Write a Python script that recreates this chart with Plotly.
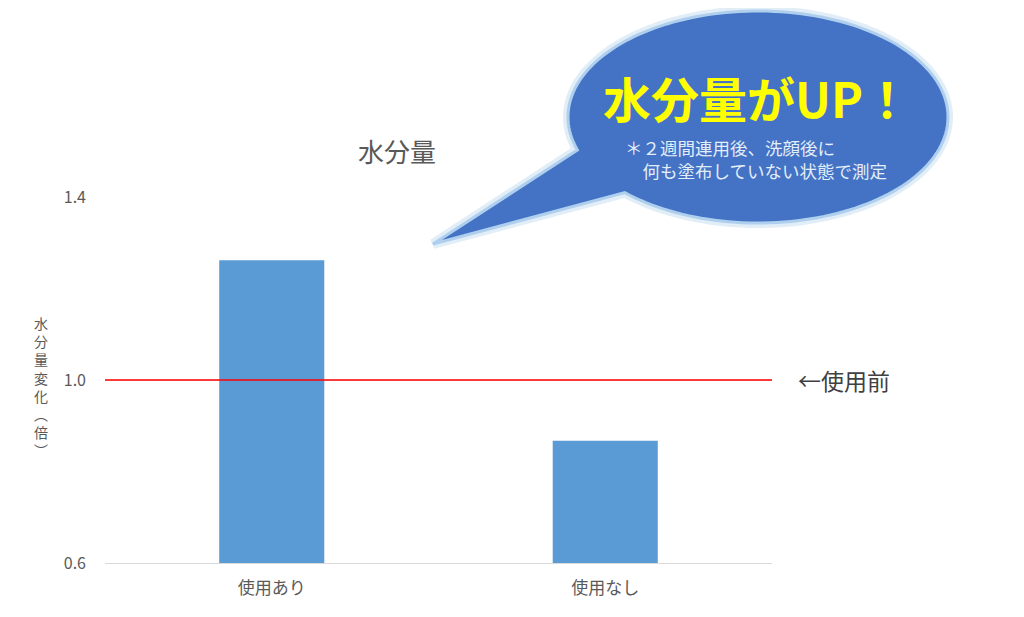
import numpy as np
import plotly.graph_objects as go

categories = ["使用あり", "使用なし"]
values = [1.262, 0.867]
y_ticks = [0.6, 1.0, 1.4]
baseline_value = 1.0
title_text = "水分量"
y_title_chars = ["水", "分", "量", "変", "化", "︵", "倍", "︶"]
baseline_label = "←使用前"
bubble_title = "水分量がUP！"
bubble_note = ["＊２週間連用後、洗顔後に", "　何も塗布していない状態で測定"]

FONT = "Noto Sans CJK JP"
OFF = 8  # page body margin
W, H = 1024 - OFF, 617 - OFF
L, R, T, B = 105, 772, 197, 563  # plot area in reference (page) pixels

def px2paper(x, y):
    return (x - L) / (R - L), (B - y) / (B - T)

fig = go.Figure()
fig.add_trace(go.Bar(x=categories, y=values, marker_color="#5B9BD5",
                     marker_line_width=0, width=0.315, showlegend=False,
                     hoverinfo="skip"))

# baseline line
fig.add_shape(type="line", xref="paper", yref="y", x0=0, x1=1,
              y0=baseline_value, y1=baseline_value,
              line=dict(color="#FF0000", width=1.5))

# speech bubble (ellipse + tail) as one path
cx, cy, rx, ry = 758, 117, 190, 106
tip = (433, 244)
a_up = np.arctan2((150 - cy) / ry, (577 - cx) / rx)
a_lo = np.arctan2((193 - cy) / ry, (624 - cx) / rx)
pts = [(cx + rx * np.cos(a), cy + ry * np.sin(a)) for a in np.linspace(a_lo, a_up - 2 * np.pi, 160)]
path_pts = [tip] + pts
segs = []
for i, (x, y) in enumerate(path_pts):
    px, py = px2paper(x, y)
    segs.append(("M" if i == 0 else "L") + f"{px:.5f},{py:.5f}")
path = " ".join(segs) + " Z"

fig.add_shape(type="path", xref="paper", yref="paper", path=path,
              fillcolor="rgba(0,0,0,0)", line=dict(color="rgba(189,215,238,0.45)", width=10))
fig.add_shape(type="path", xref="paper", yref="paper", path=path,
              fillcolor="#4472C4", line=dict(color="#AFCFEE", width=3))

def ann(x, y, text, size, color, xanchor="center", align="center"):
    ax, ay = px2paper(x, y)
    fig.add_annotation(xref="paper", yref="paper", x=ax, y=ay, text=text,
                       xanchor=xanchor, yanchor="middle", align=align, showarrow=False,
                       borderpad=0, font=dict(family=FONT, size=size, color=color))

ann(397, 150, title_text, 26, "#595959")
# vertical axis title, one character per row
row_step = 18.2
for i, ch in enumerate(y_title_chars):
    ann(41, 323 + i * row_step, ch, 14, "#595959")
ann(797, 380, baseline_label, 23, "#404040", xanchor="left")
ann(757, 97, "<b>" + bubble_title + "</b>", 48, "#FFFF00")
ann(624, 159, "<br>".join(bubble_note), 17.5, "#E2EEF9", xanchor="left", align="left")

fig.update_layout(
    width=W, height=H,
    margin=dict(l=L - OFF, r=1024 - R, t=T - OFF, b=617 - B, pad=0),
    paper_bgcolor="white", plot_bgcolor="white",
    font=dict(family=FONT),
    xaxis=dict(showline=True, linecolor="#D9D9D9", linewidth=1,
               tickfont=dict(family=FONT, size=17, color="#595959"),
               ticklabelstandoff=10, showgrid=False),
    yaxis=dict(range=[0.6, 1.4], tickvals=y_ticks, ticktext=[f"{v:.1f}" for v in y_ticks],
               gridcolor="#D9D9D9", zeroline=False, showline=False,
               tickfont=dict(family=FONT, size=16, color="#595959"),
               ticklabelstandoff=18),
)

fig.write_html("out.html")
